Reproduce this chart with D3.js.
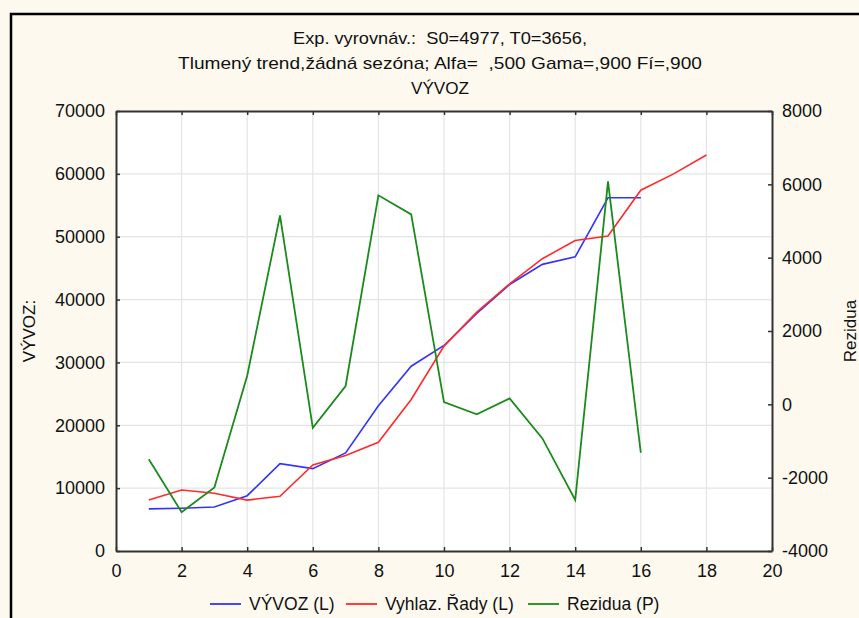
<!DOCTYPE html>
<html><head><meta charset="utf-8">
<script src="https://cdn.jsdelivr.net/npm/d3@7"></script>
<style>
body{margin:0;background:#fdf9ef;}
svg{display:block;font-family:"Liberation Sans",Arial,sans-serif;}
.title{white-space:pre;}
</style></head>
<body>
<svg id="chart" width="859" height="618"></svg>
<script>
const xsExport = [1,2,3,4,5,6,7,8,9,10,11,12,13,14,15,16];
const vyvoz = [6700,6800,7000,8800,13900,13100,15600,23100,29400,32700,37800,42400,45600,46800,56200,56200];
const xsSmooth = [1,2,3,4,5,6,7,8,9,10,11,12,13,14,15,16,17,18];
const vyhlaz = [8100,9700,9200,8100,8700,13700,15200,17300,24100,32600,38000,42500,46500,49400,50100,57400,60000,63000];
const xsResid = [1,2,3,4,5,6,7,8,9,10,11,12,13,14,15,16];
const rezidua = [-1500,-2940,-2270,780,5150,-640,500,5700,5180,60,-270,160,-930,-2610,6080,-1320];
const xTicks = [0,2,4,6,8,10,12,14,16,18,20];
const yLeftTicks = [0,10000,20000,30000,40000,50000,60000,70000];
const yRightTicks = [-4000,-2000,0,2000,4000,6000,8000];
const titleLines = ["Exp. vyrovnáv.:  S0=4977, T0=3656,", "Tlumený trend,žádná sezóna; Alfa=  ,500 Gama=,900 Fí=,900", "VÝVOZ"];
const legendItems = [
  {label:"VÝVOZ (L)", color:"#3333ff"},
  {label:"Vyhlaz. Řady (L)", color:"#ff2a2a"},
  {label:"Rezidua (P)", color:"#1c8a1c"}
];

const svg = d3.select("#chart");
const W = 859, H = 618;
const m = {left:116, right:772, top:111, bottom:551};

// outer frame
svg.append("rect").attr("x",0).attr("y",0).attr("width",W).attr("height",H).attr("fill","#fdf9ef");
svg.append("rect").attr("x",11).attr("y",14).attr("width",W+20).attr("height",H+20)
  .attr("fill","#fdf9ef").attr("stroke","#000").attr("stroke-width",2.5);

const x = d3.scaleLinear().domain([0,20]).range([m.left,m.right]);
const yL = d3.scaleLinear().domain([0,70000]).range([m.bottom,m.top]);
const yR = d3.scaleLinear().domain([-4000,8000]).range([m.bottom,m.top]);

// plot bg
svg.append("rect").attr("x",m.left).attr("y",m.top).attr("width",m.right-m.left).attr("height",m.bottom-m.top).attr("fill","#fff");

// grid
const g = svg.append("g");
g.selectAll(".vg").data(xTicks.slice(1,-1)).join("line")
  .attr("x1",d=>x(d)).attr("x2",d=>x(d)).attr("y1",m.top).attr("y2",m.bottom)
  .attr("stroke","#e4e4e4").attr("stroke-width",1.2);
g.selectAll(".hg").data(yLeftTicks.slice(1,-1)).join("line")
  .attr("y1",d=>yL(d)).attr("y2",d=>yL(d)).attr("x1",m.left).attr("x2",m.right)
  .attr("stroke","#e4e4e4").attr("stroke-width",1.2);

// axes
const fmt = d => String(d);
const axB = svg.append("g").attr("transform",`translate(0,${m.bottom})`)
  .call(d3.axisBottom(x).tickValues(xTicks).tickSizeInner(-4).tickSizeOuter(0).tickPadding(13).tickFormat(fmt));
const axT = svg.append("g").attr("transform",`translate(0,${m.top})`)
  .call(d3.axisTop(x).tickValues(xTicks).tickSizeInner(-4).tickSizeOuter(0).tickFormat(""));
const axL = svg.append("g").attr("transform",`translate(${m.left},0)`)
  .call(d3.axisLeft(yL).tickValues(yLeftTicks).tickSizeInner(-4).tickSizeOuter(0).tickPadding(11).tickFormat(fmt));
const axR = svg.append("g").attr("transform",`translate(${m.right},0)`)
  .call(d3.axisRight(yR).tickValues(yRightTicks).tickSizeInner(-4).tickSizeOuter(0).tickPadding(10).tickFormat(fmt));
[axB,axT,axL,axR].forEach(a=>{
  a.select(".domain").attr("stroke","#333").attr("stroke-width",2);
  a.selectAll(".tick line").attr("stroke","#333").attr("stroke-width",1.5);
  a.selectAll("text").attr("font-size","18px").attr("fill","#111").attr("font-family","'Liberation Sans',Arial,sans-serif");
});
axB.selectAll("text").attr("dy","0.71em");

// lines
const lineL = d3.line().x(d=>x(d[0])).y(d=>yL(d[1]));
const lineR = d3.line().x(d=>x(d[0])).y(d=>yR(d[1]));
svg.append("clipPath").attr("id","pc").append("rect")
  .attr("x",m.left).attr("y",m.top).attr("width",m.right-m.left).attr("height",m.bottom-m.top);
const lines = svg.append("g").attr("clip-path","url(#pc)");
lines.append("path").datum(d3.zip(xsExport,vyvoz)).attr("d",lineL)
  .attr("fill","none").attr("stroke",legendItems[0].color).attr("stroke-width",1.6);
lines.append("path").datum(d3.zip(xsSmooth,vyhlaz)).attr("d",lineL)
  .attr("fill","none").attr("stroke",legendItems[1].color).attr("stroke-width",1.6);
lines.append("path").datum(d3.zip(xsResid,rezidua)).attr("d",lineR)
  .attr("fill","none").attr("stroke",legendItems[2].color).attr("stroke-width",1.8);

// titles
const tys = [44,69,94];
const tLens = [294,524,58];
svg.selectAll(".title").data(titleLines).join("text").attr("class","title")
  .attr("x",440).attr("y",(d,i)=>tys[i]).attr("text-anchor","middle")
  .attr("textLength",(d,i)=>tLens[i]).attr("lengthAdjust","spacingAndGlyphs")
  .attr("font-size","17px").attr("fill","#111").text(d=>d);

// axis titles
svg.append("text").attr("transform",`translate(35,331) rotate(-90)`).attr("text-anchor","middle")
  .attr("font-size","17px").attr("fill","#111").text("VÝVOZ:");
svg.append("text").attr("transform",`translate(856,331) rotate(-90)`).attr("text-anchor","middle")
  .attr("font-size","17px").attr("fill","#111").text("Rezidua");

// legend
const legX = [210,346,528];
const lg = svg.append("g");
legendItems.forEach((it,i)=>{
  lg.append("line").attr("x1",legX[i]).attr("x2",legX[i]+31).attr("y1",604).attr("y2",604)
    .attr("stroke",it.color).attr("stroke-width",1.8);
  lg.append("text").attr("x",legX[i]+39).attr("y",610).attr("font-size","17.5px").attr("fill","#111").text(it.label);
});
</script>
</body></html>
